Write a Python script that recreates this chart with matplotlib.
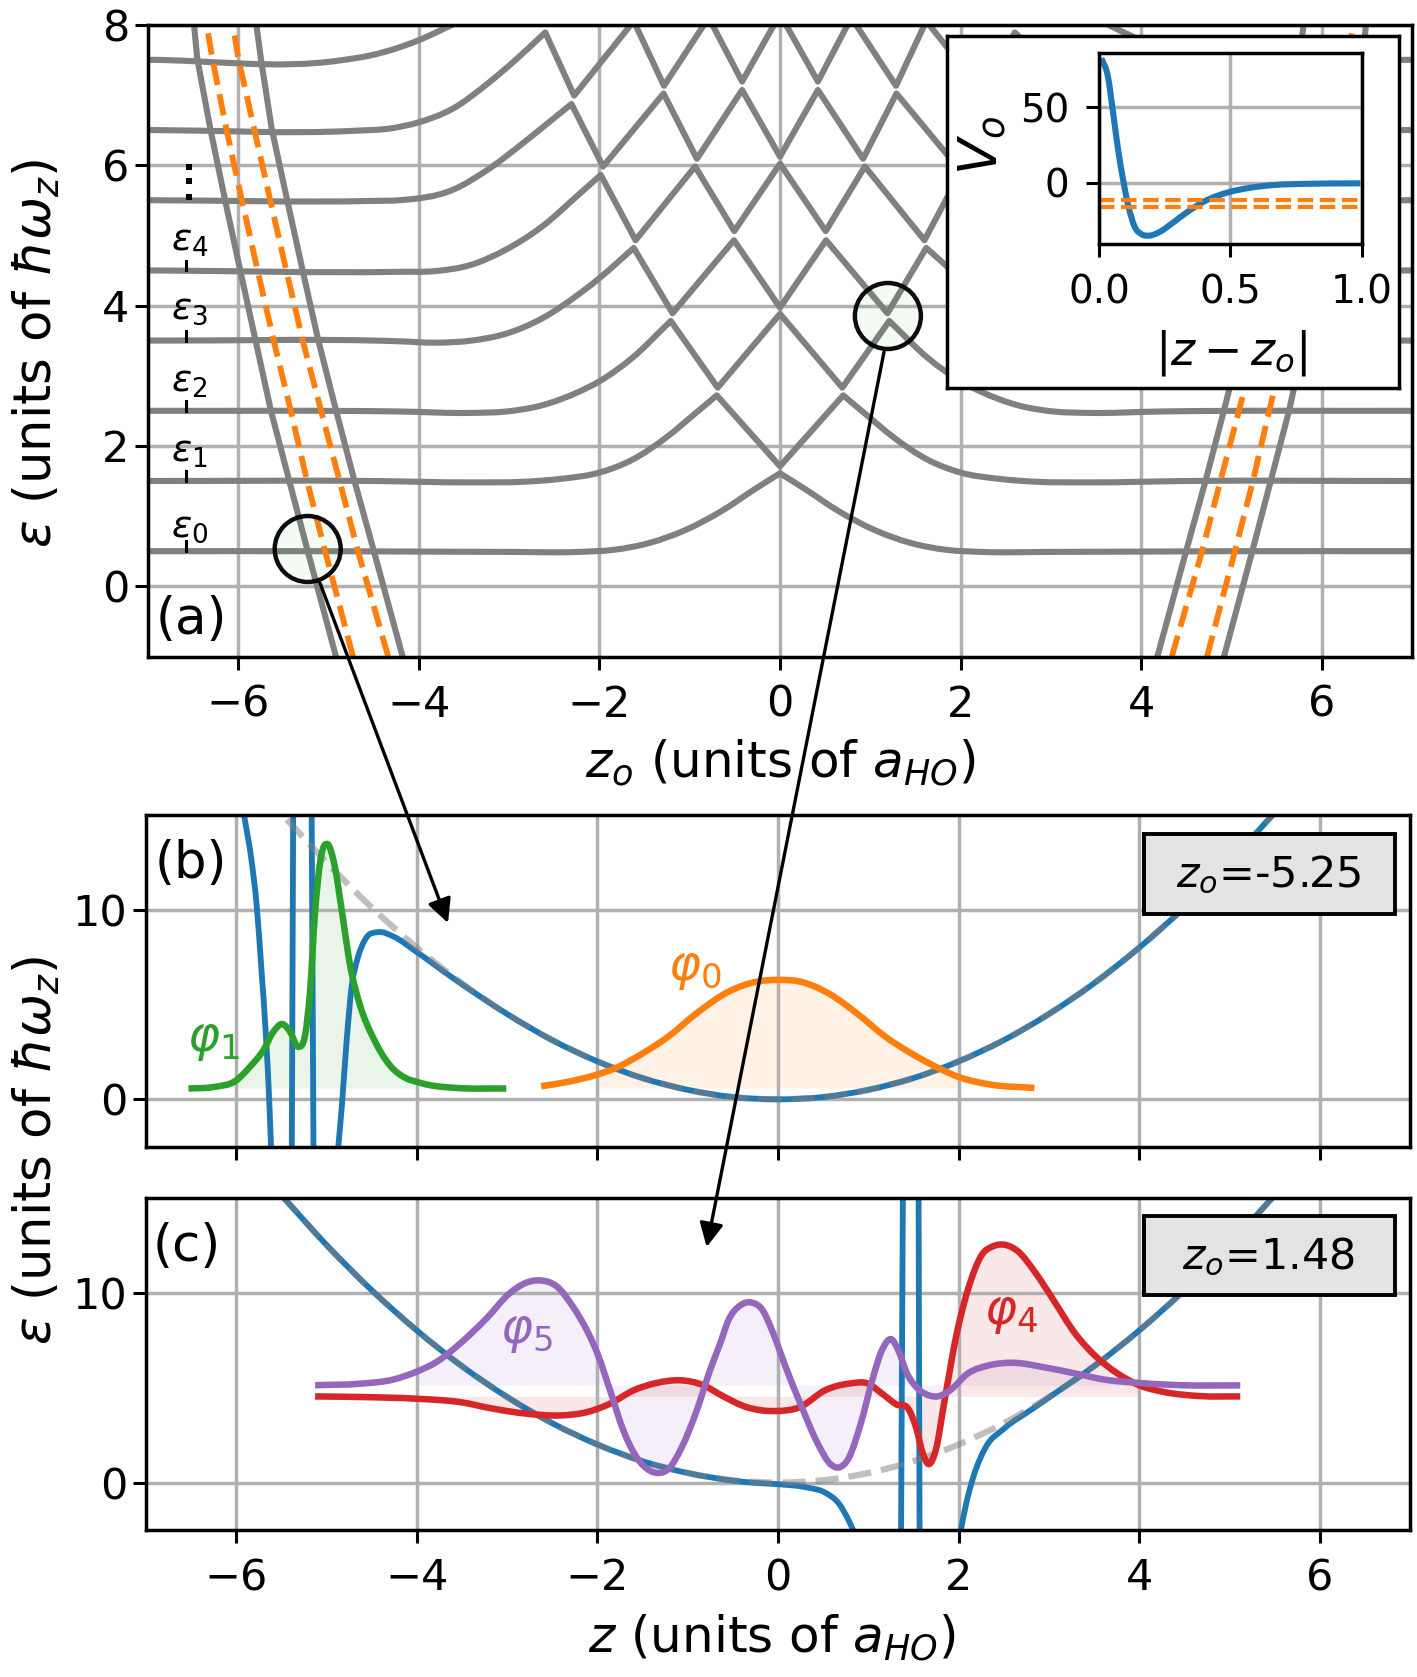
import numpy as np
import matplotlib
matplotlib.use('Agg')
import matplotlib.pyplot as plt
from matplotlib.patches import Circle, Rectangle, PathPatch
from matplotlib.path import Path

# ---- panel (a): levels, left half only, the right half is the mirror image
z0 = [-7, -5, -3.03, -2.23, -1.84, -1.44, -1.05, -0.65, -0.26, 0]
e0 = [0.5, 0.5, 0.49, 0.49, 0.52, 0.62, 0.80, 1.07, 1.40, 1.61]
z1 = [-7, -4.5, -3.42, -2.83, -2.43, -2.0, -1.64, -1.25, -0.95, -0.70, 0]
e1 = [1.5, 1.5, 1.48, 1.49, 1.53, 1.62, 1.80, 2.13, 2.45, 2.72, 1.71]
z2 = [-7, -4.21, -3.42, -3.03, -2.63, -2.23, -2.0, -1.64, -1.21, -0.69, 0]
e2 = [2.5, 2.49, 2.47, 2.49, 2.58, 2.77, 2.92, 3.25, 3.78, 2.83, 3.88]
z3 = [-7, -4.21, -3.82, -3.42, -3.03, -2.63, -2.23, -2.0, -1.62, -1.19, -0.51, 0]
e3 = [3.5, 3.49, 3.47, 3.50, 3.60, 3.82, 4.16, 4.39, 4.82, 3.89, 4.93, 3.97]
z4 = [-7, -4.21, -3.82, -3.42, -3.03, -2.63, -2.23, -1.985, -1.6, -0.94, -0.506, 0]
e4 = [4.5, 4.48, 4.49, 4.58, 4.80, 5.13, 5.58, 5.86, 4.93, 5.98, 5.06, 6.02]
z5 = [-7, -4.51, -4.21, -3.62, -3.22, -2.83, -2.55, -2.31, -1.96, -1.29, -0.92, -0.42, 0]
e5 = [5.5, 5.49, 5.50, 5.65, 5.95, 6.33, 6.62, 6.87, 5.98, 7.02, 6.09, 7.07, 6.12]
z6 = [-7, -4.7, -4.33, -4.0, -3.63, -3.22, -2.91, -2.60, -2.28, -1.62, -1.285, -0.79, -0.42, 0]
e6 = [6.5, 6.49, 6.52, 6.61, 6.80, 7.18, 7.52, 7.89, 6.99, 8.05, 7.13, 8.1, 7.19, 8.15]
z7 = [-7, -4.88, -4.51, -4.0, -3.68, -3.2, -3.0]
e7 = [7.5, 7.49, 7.57, 7.78, 7.97, 8.3, 8.6]
level_z = [z0, z1, z2, z3, z4, z5, z6, z7]
level_e = [e0, e1, e2, e3, e4, e5, e6, e7]

# bound state branches (left side, right side is mirrored)
branch_e = [-1.0, 0.51, 1.51, 2.51, 3.51, 4.51, 5.51, 6.52, 7.52, 8.0]
outer_z = [-4.918, -5.233, -5.437, -5.64, -5.81, -5.98, -6.148, -6.31, -6.455, -6.49]
inner_z = [-4.18, -4.50, -4.715, -4.918, -5.115, -5.289, -5.46, -5.63, -5.75, -5.80]
dash1_z = [-4.73, -5.04, -5.24, -5.42, -5.61, -5.788, -5.962, -6.133, -6.288, -6.35]
dash2_z = [-4.34, -4.677, -4.88, -5.085, -5.288, -5.47, -5.648, -5.825, -6.0, -6.06]

eps_labels = ['0', '1', '2', '3', '4']
eps_label_y = [0.85, 1.91, 2.91, 3.95, 4.92]
eps_tick_y = [0.5, 1.5, 2.5, 3.5, 4.5]
dots_y = [5.98, 5.77, 5.54]

# ---- inset
r_in = [0.009, 0.034, 0.054, 0.073, 0.092, 0.111, 0.136, 0.162, 0.194, 0.232, 0.283,
        0.347, 0.411, 0.487, 0.577, 0.666, 0.793, 0.995]
v_in = [82.5, 70.4, 46, 21.7, 1.8, -14.8, -29.2, -34.1, -35, -32.5, -26.3,
        -18.1, -11.5, -6.6, -3.3, -1.5, -0.7, -0.4]
bound_in = [-11.5, -15.9]

# ---- harmonic trap (b) and (c)
trap_z = [-5.5, -5.0, -4.5, -4.0, -3.5, -3.0, -2.5, -2.0, -1.5, -1.0, -0.5, 0,
          0.5, 1.0, 1.5, 2.0, 2.5, 3.0, 3.5, 4.0, 4.5, 5.0, 5.5, 5.7]
trap_e = [15.12, 12.5, 10.12, 8.0, 6.12, 4.5, 3.12, 2.0, 1.12, 0.5, 0.12, 0,
          0.12, 0.5, 1.12, 2.0, 3.12, 4.5, 6.12, 8.0, 10.12, 12.5, 15.12, 16.2]

# ---- panel (b)
blue_b_z = [-5.914, -5.83, -5.775, -5.72, -5.67, -5.633, -5.615, np.nan,
            -5.385, -5.37, np.nan, -5.165, -5.145, np.nan,
            -4.87, -4.83, -4.776, -4.72, -4.666, -4.574, -4.426, -4.26, -4.01, -3.595,
            -3.0, -2.5, -2.0, -1.5, -1.0, -0.5, 0, 0.5, 1.0, 1.5, 2.0, 2.5, 3.0, 3.5,
            4.0, 4.5, 5.0, 5.5]
blue_b_e = [15.0, 12.56, 10.27, 6.74, 3.2, -0.3, -2.5, np.nan,
            -2.5, 15.0, np.nan, 15.0, -2.5, np.nan,
            -2.5, -0.3, 3.2, 6.04, 7.27, 8.42, 8.82, 8.59, 7.8, 6.38,
            4.5, 3.12, 2.0, 1.12, 0.5, 0.12, 0, 0.12, 0.5, 1.12, 2.0, 3.12, 4.5, 6.12,
            8.0, 10.12, 12.5, 15.12]
grey_b_z = [-5.44, -5.0, -4.5, -4.0, -3.5, -3.0, -2.5, -2.0, -1.5, -1.0, -0.5, 0,
            0.5, 1.0, 1.5, 2.0, 2.5, 3.0, 3.5, 4.0, 4.5, 5.0, 5.5, 5.7]
grey_b_e = [14.76, 12.5, 10.12, 8.0, 6.12, 4.5, 3.12, 2.0, 1.12, 0.5, 0.12, 0,
            0.12, 0.5, 1.12, 2.0, 3.12, 4.5, 6.12, 8.0, 10.12, 12.5, 15.12, 16.2]
phi1_z = [-6.53, -6.25, -6.0, -5.85, -5.70, -5.59, -5.485, -5.404, -5.31, -5.238, -5.183,
          -5.127, -5.07, -4.99, -4.913, -4.83, -4.74, -4.63, -4.48, -4.30, -4.11, -4.0,
          -3.89, -3.56, -3.01]
phi1_e = [0.57, 0.65, 1.0, 1.71, 2.59, 3.56, 3.97, 3.56, 2.77, 3.39, 5.68,
          9.91, 12.56, 13.47, 12.38, 9.91, 7.09, 4.97, 3.21, 1.8, 1.09, 0.92,
          0.78, 0.6, 0.57]
phi0_z = [-2.624, -2.33, -2.0, -1.813, -1.50, -1.218, -0.904, -0.547, -0.232, 0, 0.244,
          0.56, 0.875, 1.19, 1.51, 1.79, 2.0, 2.35, 2.84]
phi0_e = [0.69, 0.92, 1.31, 1.62, 2.42, 3.30, 4.53, 5.68, 6.21, 6.30, 6.21,
          5.59, 4.53, 3.30, 2.33, 1.62, 1.18, 0.78, 0.6]
base_b = 0.6

# ---- panel (c)
blue_c_z = [-5.5, -5.0, -4.5, -4.0, -3.5, -3.0, -2.5, -2.0, -1.5, -1.0, -0.5, -0.25, 0,
            0.32, 0.52, 0.679, 0.777, 0.837, np.nan,
            1.363, 1.383, np.nan, 1.557, 1.568, np.nan,
            2.023, 2.083, 2.162, 2.30, 2.50, 2.82, 3.15, 3.5, 4.0, 4.5, 5.0, 5.5]
blue_c_e = [15.12, 12.5, 10.12, 8.0, 6.12, 4.5, 3.12, 2.0, 1.12, 0.5, 0.1, -0.02, -0.09,
            -0.26, -0.53, -1.14, -1.94, -2.55, np.nan,
            -2.5, 15.0, np.nan, 15.0, -2.5, np.nan,
            -2.55, -1.14, 0.27, 1.85, 2.82, 3.88, 4.96, 6.12, 8.0, 10.12, 12.5, 15.12]
phi5_z = [-5.127, -4.63, -4.26, -4.01, -3.78, -3.52, -3.226, -2.97, -2.78, -2.617, -2.45,
          -2.285, -2.10, -2.0, -1.86, -1.713, -1.565, -1.417, -1.325, -1.214, -1.066,
          -0.90, -0.753, -0.642, -0.547, -0.409, -0.29, -0.172, -0.053, 0.085, 0.263,
          0.442, 0.58, 0.671, 0.778, 0.916, 1.054, 1.152, 1.26, 1.331, 1.429, 1.549,
          1.668, 1.766, 1.905, 2.103, 2.34, 2.617, 2.93, 3.29, 3.61, 4.0, 4.47, 5.12]
phi5_e = [5.12, 5.2, 5.42, 5.82, 6.35, 7.32, 8.65, 9.97, 10.53, 10.63, 10.32,
          9.35, 7.85, 6.79, 4.85, 2.74, 1.32, 0.62, 0.50, 0.71, 1.85,
          3.79, 5.91, 7.3, 8.56, 9.35, 9.47, 9.08, 7.85, 6.08, 3.97,
          2.03, 0.97, 0.79, 1.24, 3.09, 5.56, 6.97, 7.53, 6.97, 5.74, 4.94,
          4.59, 4.53, 4.85, 5.74, 6.17, 6.30, 6.08, 5.74, 5.42, 5.24, 5.12, 5.11]
phi4_z = [-5.127, -4.63, -4.01, -3.52, -3.15, -2.78, -2.41, -2.12, -1.86, -1.60, -1.343,
          -1.085, -0.827, -0.627, -0.35, -0.033, 0.244, 0.52, 0.797, 0.995, 1.152, 1.311,
          1.45, 1.528, 1.606, 1.668, 1.746, 1.845, 1.98, 2.103, 2.26, 2.38, 2.50, 2.657,
          2.853, 3.05, 3.29, 3.526, 3.76, 4.0, 4.28, 4.67, 5.12]
phi4_e = [4.53, 4.5, 4.41, 4.23, 3.88, 3.62, 3.53, 3.70, 4.15, 4.85, 5.24,
          5.38, 5.12, 4.59, 3.97, 3.76, 3.97, 4.85, 5.21, 5.21, 4.68, 4.11,
          3.83, 2.91, 1.50, 0.97, 1.68, 4.32, 7.85, 10.14, 12.0, 12.43, 12.52, 12.17,
          11.03, 9.61, 7.85, 6.61, 5.74, 5.12, 4.76, 4.55, 4.53]
base_c5 = 5.12
base_c4 = 4.53

W, H = 1417, 1677
GREY = '#808080'
BLUE = '#1f77b4'
ORANGE = '#ff7f0e'
GREEN = '#2ca02c'
RED = '#d62728'
PURPLE = '#9467bd'

plt.rcParams['font.size'] = 31
plt.rcParams['axes.linewidth'] = 2.5
plt.rcParams['xtick.major.size'] = 9.5
plt.rcParams['ytick.major.size'] = 9.5
plt.rcParams['xtick.major.width'] = 2.2
plt.rcParams['ytick.major.width'] = 2.2
plt.rcParams['xtick.major.pad'] = 10
plt.rcParams['ytick.major.pad'] = 4


def pos(x0, y0, x1, y1):
    # pixel box -> figure fractions
    return [x0 / W, 1 - y1 / H, (x1 - x0) / W, (y1 - y0) / H]


def mirror(z, e):
    z = np.array(z)
    e = np.array(e)
    return np.r_[z, -z[-2::-1]], np.r_[e, e[-2::-1]]


def kinks(x, y):
    # sharp avoided crossings stay sharp, everything else gets a smooth line
    s = np.diff(y) / np.diff(x)
    return [i + 1 for i in range(len(s) - 1)
            if s[i] * s[i + 1] < 0 and abs(s[i]) > 0.6 and abs(s[i + 1]) > 0.6]


def add_run(verts, codes, x, y, first):
    n = len(x)
    if first:
        verts.append((x[0], y[0]))
        codes.append(Path.MOVETO)
    if n == 2:
        verts.append((x[1], y[1]))
        codes.append(Path.LINETO)
        return
    h = np.diff(x)
    s = np.diff(y) / h
    m = np.zeros(n)
    m[0] = s[0]
    m[-1] = s[-1]
    m[1:-1] = (s[1:] * h[:-1] + s[:-1] * h[1:]) / (h[:-1] + h[1:])
    for i in range(n - 1):
        verts += [(x[i] + h[i] / 3, y[i] + m[i] * h[i] / 3),
                  (x[i + 1] - h[i] / 3, y[i + 1] - m[i + 1] * h[i] / 3),
                  (x[i + 1], y[i + 1])]
        codes += [Path.CURVE4] * 3


def curve(ax, x, y, color, lw, ls='-', alpha=None, breaks=()):
    # cubic bezier line through the read points, split on nan and on breaks
    x = np.array(x, float)
    y = np.array(y, float)
    verts, codes = [], []
    cuts = [i for i in range(len(x)) if np.isnan(x[i])]
    start = 0
    for c in cuts + [len(x)]:
        run = [start] + [b for b in breaks if start < b < c] + [c - 1]
        for k, (a, b) in enumerate(zip(run[:-1], run[1:])):
            add_run(verts, codes, x[a:b + 1], y[a:b + 1], k == 0)
        start = c + 1
    ax.add_patch(PathPatch(Path(verts, codes), fill=False, ec=color, lw=lw, ls=ls, alpha=alpha,
                           capstyle='butt', joinstyle='round', zorder=2))


fig = plt.figure(figsize=(W / 100, H / 100), dpi=100)

# panel (a)
ax_a = fig.add_axes(pos(148, 24.7, 1412, 656.5))
ax_a.grid(True, color='#b0b0b0', lw=2.5)
for z, e in zip(level_z, level_e):
    zz, ee = mirror(z, e)
    curve(ax_a, zz, ee, GREY, 4.4, breaks=kinks(zz, ee))
for z in [outer_z, inner_z]:
    ax_a.plot(z, branch_e, color=GREY, lw=4.4)
    ax_a.plot(-np.array(z), branch_e, color=GREY, lw=4.4)
for z in [dash1_z, dash2_z]:
    ax_a.plot(z, branch_e, color=ORANGE, lw=4.2, ls='--')
    ax_a.plot(-np.array(z), branch_e, color=ORANGE, lw=4.2, ls='--')
for n, ly, ty in zip(eps_labels, eps_label_y, eps_tick_y):
    ax_a.text(-6.54, ly, r'$\epsilon_{\mathit{%s}}$' % n, fontsize=27, ha='center', va='center')
    ax_a.plot([-6.58, -6.58], [ty, ty + 0.14], color='k', lw=2.2)
ax_a.plot([-6.55] * 3, dots_y, 's', color='k', ms=3.8, mew=0)
ax_a.set_xlim(-7, 7)
ax_a.set_ylim(-1, 8)
ax_a.set_xticks([-6, -4, -2, 0, 2, 4, 6])
ax_a.set_yticks([0, 2, 4, 6, 8])

# panel (b)
ax_b = fig.add_axes(pos(146, 815, 1410, 1146.7))
ax_b.grid(True, color='#b0b0b0', lw=2.5)
curve(ax_b, blue_b_z, blue_b_e, BLUE, 4.2)
curve(ax_b, grey_b_z, grey_b_e, 'gray', 4.5, ls='--', alpha=0.5)
z1a = np.array(phi1_z)
z0a = np.array(phi0_z)
ax_b.fill_between(z1a, base_b, phi1_e, where=(z1a >= -6) & (z1a <= -4), color=GREEN, alpha=0.1, lw=0)
ax_b.fill_between(z0a, base_b, phi0_e, where=(z0a >= -2) & (z0a <= 2), color=ORANGE, alpha=0.1, lw=0)
curve(ax_b, phi1_z, phi1_e, GREEN, 4.7)
curve(ax_b, phi0_z, phi0_e, ORANGE, 4.7)
ax_b.text(-6.55, 3.2, r'$\varphi_{\mathit{1}}$', color=GREEN, fontsize=35, ha='left', va='center')
ax_b.text(-1.22, 6.95, r'$\varphi_{\mathit{0}}$', color=ORANGE, fontsize=35, ha='left', va='center')
ax_b.set_xlim(-7, 7)
ax_b.set_ylim(-2.5, 15)
ax_b.set_xticks([-6, -4, -2, 0, 2, 4, 6])
ax_b.set_xticklabels([])
ax_b.set_yticks([0, 10])

# panel (c)
ax_c = fig.add_axes(pos(146, 1197.5, 1410, 1530))
ax_c.grid(True, color='#b0b0b0', lw=2.5)
curve(ax_c, blue_c_z, blue_c_e, BLUE, 4.2)
curve(ax_c, trap_z, trap_e, 'gray', 4.5, ls='--', alpha=0.5)
z5a = np.array(phi5_z)
z4a = np.array(phi4_z)
ax_c.fill_between(z5a, base_c5, phi5_e, where=(z5a >= -4.01) & (z5a <= 4), color=PURPLE, alpha=0.1, lw=0)
ax_c.fill_between(z4a, base_c4, phi4_e, where=(z4a >= -4.01) & (z4a <= 4), color=RED, alpha=0.1, lw=0)
curve(ax_c, phi4_z, phi4_e, RED, 4.7)
curve(ax_c, phi5_z, phi5_e, PURPLE, 4.7)
ax_c.text(-3.08, 7.95, r'$\varphi_{\mathit{5}}$', color=PURPLE, fontsize=35, ha='left', va='center')
ax_c.text(2.28, 8.95, r'$\varphi_{\mathit{4}}$', color=RED, fontsize=35, ha='left', va='center')
ax_c.set_xlim(-7, 7)
ax_c.set_ylim(-2.5, 15)
ax_c.set_xticks([-6, -4, -2, 0, 2, 4, 6])
ax_c.set_yticks([0, 10])

# inset, white card first then the small axes
card = fig.add_axes(pos(947, 36, 1399, 388))
card.set_xticks([])
card.set_yticks([])
ins = fig.add_axes(pos(1099, 53, 1361.5, 244))
ins.grid(True, color='#b0b0b0', lw=2.5)
curve(ins, r_in, v_in, BLUE, 4.4)
for b in bound_in:
    ins.plot([0, 1], [b, b], color=ORANGE, lw=3, ls='--')
ins.set_xlim(0, 1)
ins.set_ylim(-40.6, 86)
ins.set_xticks([0, 0.5, 1])
ins.set_xticklabels(['0.0', '0.5', '1.0'])
ins.set_yticks([0, 50])
ins.tick_params(labelsize=28)
ins.tick_params(axis='x', pad=12)
ins.tick_params(axis='y', pad=12)

# everything that crosses panels goes on a pixel overlay
ov = fig.add_axes([0, 0, 1, 1])
ov.set_xlim(0, W)
ov.set_ylim(H, 0)
ov.axis('off')
for cx, cy in [(307.7, 549), (887.9, 316)]:
    ov.add_patch(Circle((cx, cy), 33, fc=(0.17, 0.63, 0.17, 0.05), ec='none'))
    ov.add_patch(Circle((cx, cy), 33, fc='none', ec='k', lw=3.2, alpha=0.95))
for start, end in [((320, 583), (448, 923)), ((884, 352), (706.7, 1247))]:
    ov.annotate('', xy=end, xytext=start,
                arrowprops=dict(arrowstyle='-|>', color='k', lw=2.4, mutation_scale=36,
                                shrinkA=0, shrinkB=0))
for y0, y1, txt in [(834, 914, r'$z_o$=-5.25'), (1216, 1295, r'$z_o$=1.48')]:
    ov.add_patch(Rectangle((1144, y0), 251, y1 - y0, fc='#e3e3e3', ec='k', lw=2.8))
    ov.text(1269, (y0 + y1) / 2 + 1, txt, fontsize=31, ha='center', va='center')
ov.text(191, 620, '(a)', fontsize=37, ha='center', va='center')
ov.text(191, 864, '(b)', fontsize=37, ha='center', va='center')
ov.text(187, 1247, '(c)', fontsize=37, ha='center', va='center')
ov.text(37, 353, r'$\varepsilon$ (units of $\hbar\omega_z$)', fontsize=37, rotation=90, ha='center', va='center')
ov.text(37, 1150, r'$\varepsilon$ (units of $\hbar\omega_z$)', fontsize=37, rotation=90, ha='center', va='center')
ov.text(780, 763, r'$z_o$ (units of $a_{HO}$)', fontsize=36, ha='center', va='center')
ov.text(772, 1638, r'$z$ (units of $a_{HO}$)', fontsize=36, ha='center', va='center')
ov.text(982, 146, r'$V_o$', fontsize=38, rotation=90, ha='center', va='center')
ov.text(1231, 353, r'$|z - z_o|$', fontsize=33, ha='center', va='center')

fig.savefig('out.png', dpi=100)
